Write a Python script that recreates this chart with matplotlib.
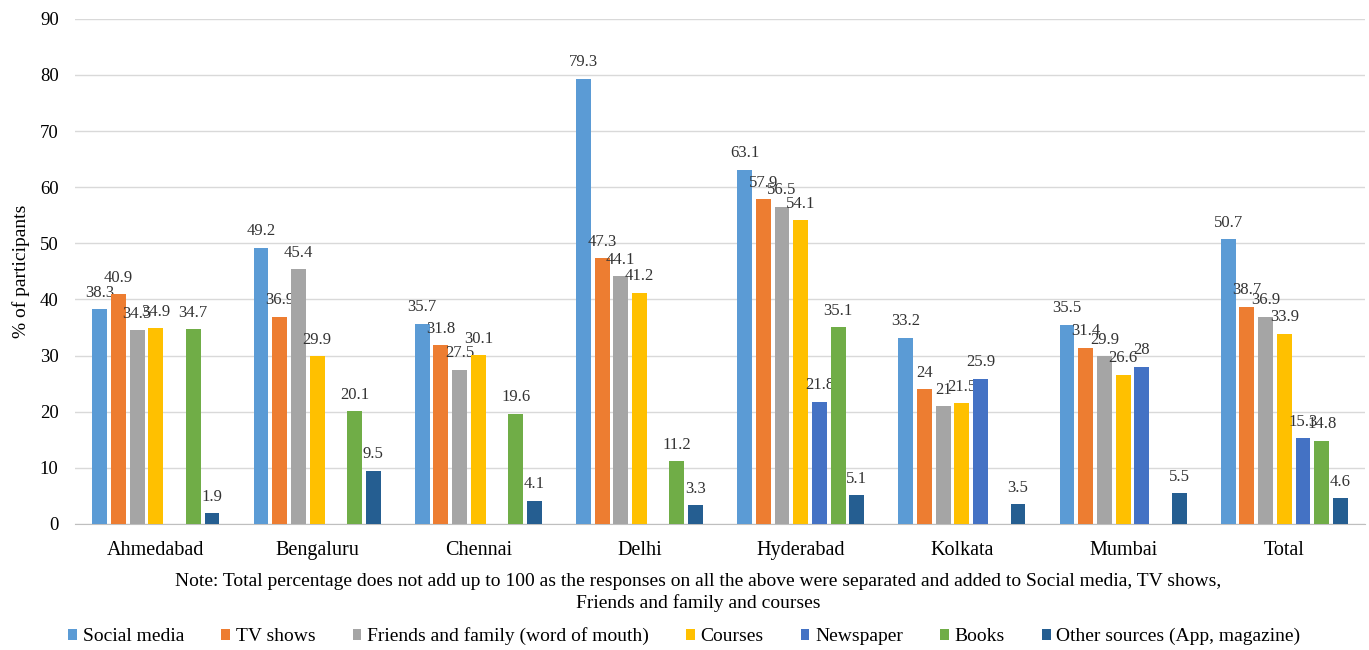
import numpy as np
import matplotlib.pyplot as plt

plt.rcParams['font.family'] = ['Liberation Serif', 'DejaVu Serif']

cities = ['Ahmedabad', 'Bengaluru', 'Chennai', 'Delhi', 'Hyderabad',
          'Kolkata', 'Mumbai', 'Total']
series = ['Social media', 'TV shows', 'Friends and family (word of mouth)',
          'Courses', 'Newspaper', 'Books', 'Other sources (App, magazine)']

social_media = [38.3, 49.2, 35.7, 79.3, 63.1, 33.2, 35.5, 50.7]
tv_shows = [40.9, 36.9, 31.8, 47.3, 57.9, 24, 31.4, 38.7]
friends_family = [34.5, 45.4, 27.5, 44.1, 56.5, 21, 29.9, 36.9]
courses = [34.9, 29.9, 30.1, 41.2, 54.1, 21.5, 26.6, 33.9]
newspaper = [None, None, None, None, 21.8, 25.9, 28, 15.3]
books = [34.7, 20.1, 19.6, 11.2, 35.1, None, None, 14.8]
other_sources = [1.9, 9.5, 4.1, 3.3, 5.1, 3.5, 5.5, 4.6]

values = [social_media, tv_shows, friends_family, courses,
          newspaper, books, other_sources]
colors = ['#5B9BD5', '#ED7D31', '#A5A5A5', '#FFC000',
          '#4472C4', '#70AD47', '#255E91']

fig = plt.figure(figsize=(13.69, 6.5), dpi=100)
ax = fig.add_axes([0.055, 0.194, 0.942, 0.777])

x = np.arange(len(cities))
step = 0.116
width = 0.092
for i, (name, vals, col) in enumerate(zip(series, values, colors)):
    pos = x + (i - 3) * step
    h = np.array([np.nan if v is None else v for v in vals], dtype=float)
    ax.bar(pos, h, width, color=col, label=name, zorder=3)
    for p, v in zip(pos, vals):
        if v is None:
            continue
        ax.text(p, v + 1.5, f'{v:g}', ha='center', va='bottom',
                fontsize=12, color='#333333')

ax.set_xlim(-0.5, len(cities) - 0.5)
ax.set_ylim(0, 90)
ax.set_yticks(np.arange(0, 91, 10))
ax.set_xticks(x)
ax.set_xticklabels(cities, fontsize=14.5)
ax.tick_params(axis='y', labelsize=13.5, length=0, pad=12)
ax.tick_params(axis='x', length=0, pad=12)
ax.set_ylabel('% of participants', fontsize=14, labelpad=7)
ax.grid(axis='y', color='#D9D9D9', linewidth=1, zorder=0)
for s in ['top', 'right', 'left']:
    ax.spines[s].set_visible(False)
ax.spines['bottom'].set_color('#BFBFBF')

fig.text(0.51, 0.089,
         'Note: Total percentage does not add up to 100 as the responses on all the above '
         'were separated and added to Social media, TV shows,\nFriends and family and courses',
         ha='center', va='center', fontsize=14, linespacing=1.3)

fig.legend(loc='center', bbox_to_anchor=(0.5, 0.021), ncol=7, frameon=False,
           fontsize=14, handlelength=0.45, handleheight=0.45,
           handletextpad=0.3, columnspacing=1.9)

fig.savefig('out.png', dpi=100)
